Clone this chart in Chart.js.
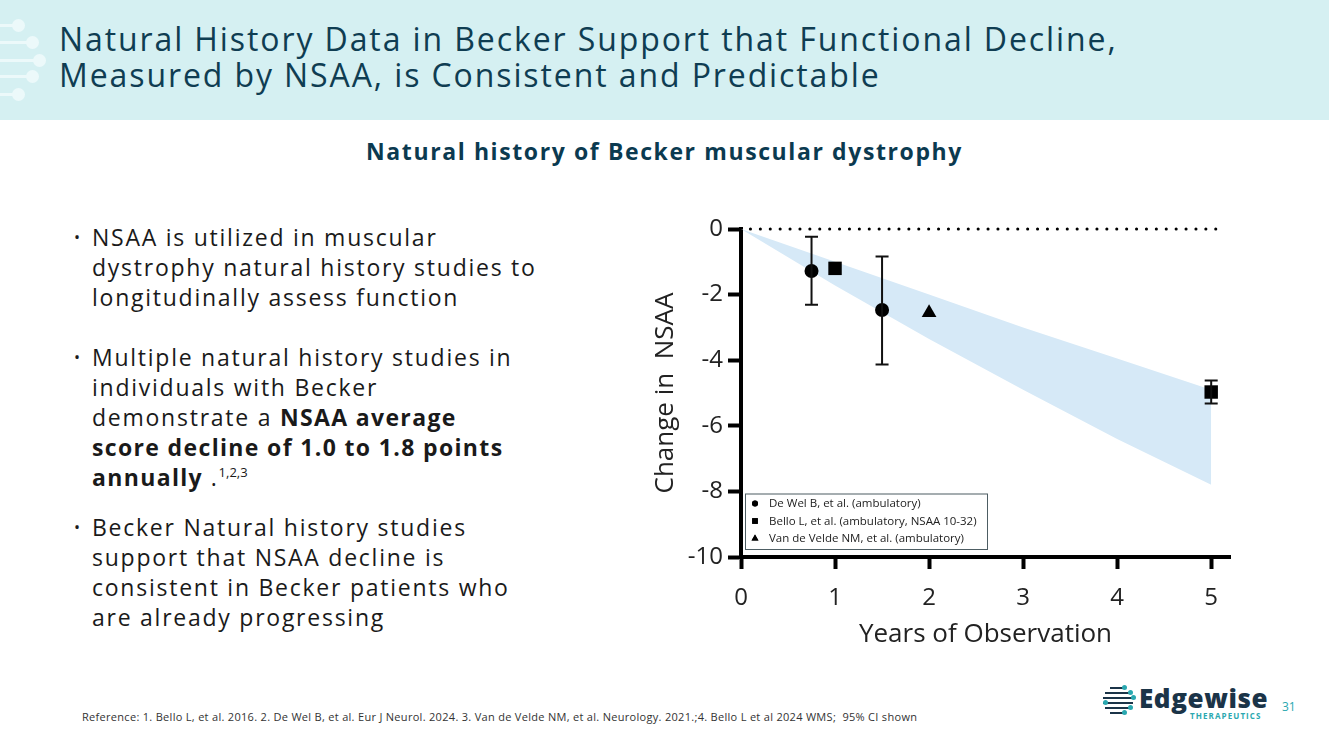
<!DOCTYPE html>
<html>
<head>
<meta charset="utf-8">
<title>Natural history of Becker muscular dystrophy</title>
<script src="https://cdn.jsdelivr.net/npm/chart.js@4.4.0/dist/chart.umd.min.js"></script>
<style>
  body { margin: 0; width: 1329px; height: 749px; background: #fff; position: relative; overflow: hidden; font-family: 'Open Sans', sans-serif; }
  .header { position: absolute; left: 0; top: 0; width: 1329px; height: 120px; background: #d5f0f2; }
  .header h1 { position: absolute; left: 59px; top: 21px; margin: 0; font-weight: 400; font-size: 32px; line-height: 36px; color: #0f3d52; letter-spacing: 1.9px; }
  .deco-line { position: absolute; left: 0; height: 3px; background: #ecf9fa; }
  .deco-dot { position: absolute; width: 13px; height: 13px; border-radius: 50%; background: #ecf9fa; }
  .subtitle { position: absolute; top: 135px; left: 0; width: 1329px; text-align: center; font-weight: 700; font-size: 23px; letter-spacing: 1.6px; color: #0b3a50; }
  .bullet { position: absolute; left: 92px; font-size: 23px; line-height: 30px; color: #1a1a1a; letter-spacing: 1.75px; }
  .bullet b { letter-spacing: 1.35px; }
  .bullet::before { content: '\2022'; position: absolute; left: -18px; font-size: 16px; }
  .bullet sup { font-size: 13px; line-height: 0; vertical-align: 9px; letter-spacing: 0; }
  #chart-wrap { position: absolute; left: 630px; top: 200px; width: 610px; height: 450px; }
  .ref { position: absolute; left: 82px; top: 709px; font-size: 11px; letter-spacing: 0.3px; color: #333; }
  .logo-text { position: absolute; left: 1139px; top: 685px; font-weight: 800; font-size: 26px; line-height: 26px; color: #1b3448; letter-spacing: 0.6px; }
  .logo-sub { position: absolute; left: 1190px; top: 712px; font-weight: 700; font-size: 8px; line-height: 8px; color: #2aa8b0; letter-spacing: 1.1px; }
  .logo-row { position: absolute; height: 2px; background: #1b3448; }
  .logo-dot { position: absolute; width: 5px; height: 5px; border-radius: 50%; background: #2aa8b0; }
  .page-num { position: absolute; left: 1282px; top: 698px; font-size: 12px; color: #2aa8b0; }
</style>
</head>
<body>
<div class="header">
  <span class="deco-line" style="top:24px;width:18px"></span><span class="deco-dot" style="left:12px;top:19px"></span>
  <span class="deco-line" style="top:41px;width:32px"></span><span class="deco-dot" style="left:26px;top:36px"></span>
  <span class="deco-line" style="top:59px;width:39px"></span><span class="deco-dot" style="left:33px;top:54px"></span>
  <span class="deco-line" style="top:75px;width:32px"></span><span class="deco-dot" style="left:26px;top:70px"></span>
  <span class="deco-line" style="top:93px;width:18px"></span><span class="deco-dot" style="left:12px;top:88px"></span>
  <h1>Natural History Data in Becker Support that Functional Decline,<br>Measured by NSAA, is Consistent and Predictable</h1>
</div>

<div class="subtitle">Natural history of Becker muscular dystrophy</div>

<div class="bullet" style="top:222px">NSAA is utilized in muscular<br>dystrophy natural history studies to<br>longitudinally assess function</div>
<div class="bullet" style="top:342px">Multiple natural history studies in<br>individuals with Becker<br>demonstrate a <b>NSAA average<br>score decline of 1.0 to 1.8 points<br>annually</b> .<sup>1,2,3</sup></div>
<div class="bullet" style="top:512px">Becker Natural history studies<br>support that NSAA decline is<br>consistent in Becker patients who<br>are already progressing</div>

<div id="chart-wrap"><canvas id="nsaa-chart" width="610" height="450"></canvas></div>

<div class="ref">Reference: 1. Bello L, et al. 2016. 2. De Wel B, et al. Eur J Neurol. 2024. 3. Van de Velde NM, et al. Neurology. 2021.;4. Bello L et al 2024 WMS;&nbsp; 95% CI shown</div>

<span class="logo-row" style="left:1110px;top:687px;width:14px"></span><span class="logo-dot" style="left:1122px;top:685px"></span>
<span class="logo-row" style="left:1105px;top:692px;width:24px"></span><span class="logo-dot" style="left:1128px;top:690px"></span>
<span class="logo-row" style="left:1103px;top:697px;width:30px"></span><span class="logo-dot" style="left:1131px;top:695px"></span>
<span class="logo-row" style="left:1103px;top:702px;width:30px"></span><span class="logo-dot" style="left:1103px;top:700px"></span>
<span class="logo-row" style="left:1105px;top:707px;width:24px"></span><span class="logo-dot" style="left:1128px;top:705px"></span>
<span class="logo-row" style="left:1110px;top:712px;width:14px"></span><span class="logo-dot" style="left:1122px;top:710px"></span>
<div class="logo-text">Edgewise</div>
<div class="logo-sub">THERAPEUTICS</div>
<div class="page-num">31</div>

<script>
// Tick labels
const xTicks = [0, 1, 2, 3, 4, 5];
const yTicks = [0, -2, -4, -6, -8, -10];

// De Wel B, et al. (ambulatory) - mean and 95% CI
const deWelYears = [0.75, 1.5];
const deWelChange = [-1.28, -2.47];
const deWelLow = [-2.31, -4.13];
const deWelHigh = [-0.24, -0.84];

// Bello L, et al. (ambulatory, NSAA 10-32)
const belloYears = [1, 5];
const belloChange = [-1.2, -4.97];
const belloLow = [null, -5.32];
const belloHigh = [null, -4.62];

// Van de Velde NM, et al. (ambulatory)
const vanDeVeldeYears = [2];
const vanDeVeldeChange = [-2.55];

// shaded band
const bandYears = [0, 1, 2, 3, 4, 5];
const bandUpper = [0, -1.0, -2.0, -3.0, -3.95, -4.9];
const bandLower = [0, -1.72, -3.35, -4.9, -6.4, -7.8];

// dotted reference line at 0
const zeroLineYears = [0.1, 5.12];
const zeroLineValues = [0, 0];

const toPoints = (xs, ys) => xs.map((x, i) => ({ x: x, y: ys[i] }));

// error bars drawn from errLow / errHigh
const errorBars = {
    id: 'errorBars',
    afterDatasetsDraw(chart) {
        const ctx = chart.ctx;
        const xs = chart.scales.x, ys = chart.scales.y;
        ctx.save();
        ctx.strokeStyle = '#111';
        ctx.lineWidth = 2;
        chart.data.datasets.forEach(ds => {
            if (!ds.errLow) return;
            ds.data.forEach((p, i) => {
                const lo = ds.errLow[i], hi = ds.errHigh[i];
                if (lo == null || hi == null) return;
                const px = xs.getPixelForValue(p.x);
                const yl = ys.getPixelForValue(lo);
                const yh = ys.getPixelForValue(hi);
                ctx.beginPath();
                ctx.moveTo(px, yh); ctx.lineTo(px, yl);
                ctx.moveTo(px - 6.5, yh); ctx.lineTo(px + 6.5, yh);
                ctx.moveTo(px - 6.5, yl); ctx.lineTo(px + 6.5, yl);
                ctx.stroke();
            });
        });
        ctx.restore();
    }
};

// boxed legend inside the plot, bottom left
const boxLegend = {
    id: 'boxLegend',
    afterDraw(chart) {
        const ctx = chart.ctx;
        const area = chart.chartArea;
        const items = chart.data.datasets.filter(ds => ds.inLegend);
        const left = area.left + 4, w = 242, rowH = 17.5;
        const h = items.length * rowH + 3;
        const top = area.bottom - 8 - h;
        ctx.save();
        ctx.fillStyle = '#fff';
        ctx.fillRect(left, top, w, h);
        ctx.strokeStyle = '#4d5d63';
        ctx.lineWidth = 1;
        ctx.strokeRect(left + 0.5, top + 0.5, w, h);
        ctx.font = '11.5px "Open Sans"';
        ctx.textBaseline = 'middle';
        items.forEach((ds, i) => {
            const cy = top + 10 + i * rowH;
            ctx.fillStyle = '#000';
            Chart.helpers.drawPoint(ctx, { pointStyle: ds.pointStyle, radius: ds.legendRadius, rotation: 0, borderWidth: 0 }, left + 10, cy);
            ctx.fill();
            ctx.fillStyle = '#222';
            ctx.fillText(ds.label, left + 24, cy + 0.5);
        });
        ctx.restore();
    }
};

const ctx = document.getElementById('nsaa-chart').getContext('2d');
new Chart(ctx, {
    type: 'scatter',
    data: {
        datasets: [
            {
                label: 'De Wel B, et al. (ambulatory)',
                data: toPoints(deWelYears, deWelChange),
                errLow: deWelLow, errHigh: deWelHigh,
                pointStyle: 'circle', pointRadius: 7, legendRadius: 3,
                backgroundColor: '#000', borderColor: '#000', borderWidth: 0,
                inLegend: true, clip: false, order: 1
            },
            {
                label: 'Bello L, et al. (ambulatory, NSAA 10-32)',
                data: toPoints(belloYears, belloChange),
                errLow: belloLow, errHigh: belloHigh,
                pointStyle: 'rect', pointRadius: 9.5, legendRadius: 4,
                backgroundColor: '#000', borderColor: '#000', borderWidth: 0,
                inLegend: true, clip: false, order: 1
            },
            {
                label: 'Van de Velde NM, et al. (ambulatory)',
                data: toPoints(vanDeVeldeYears, vanDeVeldeChange),
                pointStyle: 'triangle', pointRadius: 8.5, legendRadius: 4,
                backgroundColor: '#000', borderColor: '#000', borderWidth: 0,
                inLegend: true, clip: false, order: 1
            },
            {
                label: 'zero',
                type: 'line',
                data: toPoints(zeroLineYears, zeroLineValues),
                borderColor: '#000', borderWidth: 3,
                borderDash: [0.1, 9.8], borderCapStyle: 'round',
                pointRadius: 0, clip: false, order: 2
            },
            {
                label: 'band upper',
                type: 'line',
                data: toPoints(bandYears, bandUpper),
                borderWidth: 0, borderColor: 'rgba(0,0,0,0)',
                pointRadius: 0, fill: false, order: 10
            },
            {
                label: 'band lower',
                type: 'line',
                data: toPoints(bandYears, bandLower),
                borderWidth: 0, borderColor: 'rgba(0,0,0,0)',
                backgroundColor: '#d6e9f7',
                pointRadius: 0, fill: '-1', order: 10
            }
        ]
    },
    options: {
        responsive: false,
        animation: false,
        layout: { padding: { left: 20, right: 10, top: 29, bottom: 0 } },
        plugins: {
            legend: { display: false },
            tooltip: { enabled: false }
        },
        scales: {
            x: {
                type: 'linear',
                min: 0,
                max: 5.2,
                afterBuildTicks: s => { s.ticks = xTicks.map(v => ({ value: v })); },
                afterFit: s => { s.height = 93; },
                grid: { drawOnChartArea: false, drawTicks: true, tickLength: 12, tickWidth: 4, tickColor: '#000' },
                border: { display: true, width: 4, color: '#000' },
                ticks: { color: '#222', padding: 15, font: { family: 'Open Sans', size: 24 } },
                title: { display: true, text: 'Years of Observation', color: '#222', padding: 0, font: { family: 'Open Sans', size: 26 } }
            },
            y: {
                type: 'linear',
                min: -10,
                max: 0,
                afterBuildTicks: s => { s.ticks = yTicks.map(v => ({ value: v })); },
                afterFit: s => { s.width = 91; },
                grid: { drawOnChartArea: false, drawTicks: true, tickLength: 13, tickWidth: 4, tickColor: '#000' },
                border: { display: true, width: 4, color: '#000' },
                ticks: { color: '#222', padding: 5, font: { family: 'Open Sans', size: 24 } },
                title: { display: true, text: 'Change in  NSAA', color: '#222', padding: 0, font: { family: 'Open Sans', size: 26 } }
            }
        }
    },
    plugins: [errorBars, boxLegend]
});
</script>
</body>
</html>
